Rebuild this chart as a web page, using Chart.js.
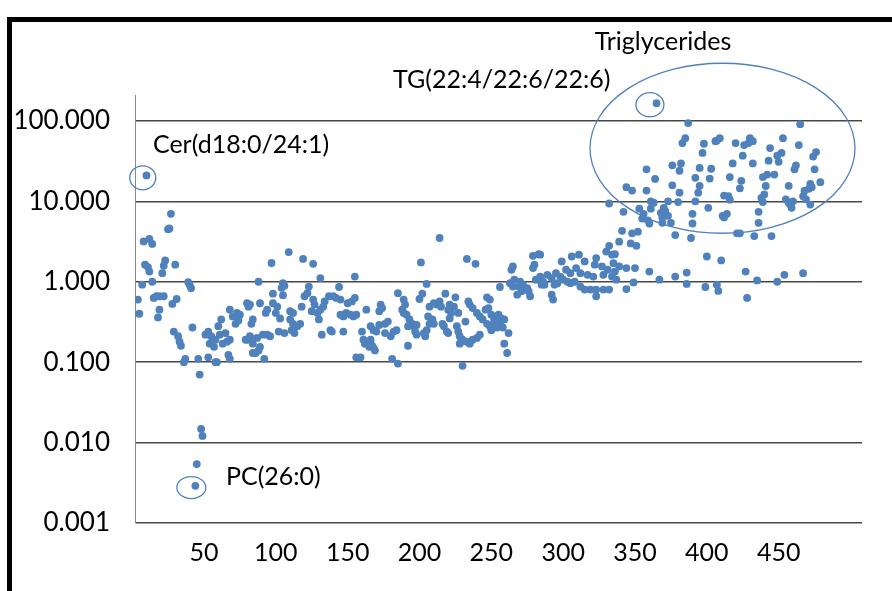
<!DOCTYPE html>
<html>
<head>
<meta charset="utf-8">
<script src="https://cdn.jsdelivr.net/npm/chart.js@4.4.0/dist/chart.umd.min.js"></script>
<style>
  html, body { margin: 0; padding: 0; background: #fff; }
  canvas { display: block; }
</style>
</head>
<body>
<canvas id="myChart" width="892" height="591"></canvas>
<script>
// values: [lipid index, ratio]
const band1 = [
  [4,0.6],[5,0.40],[7,0.92],[8,3.17],[9,1.63],[10,21],[11,1.52],[12,3.4],[12,1.34],[14,2.95],
  [14,1.0],[15,0.63],[17,0.66],[18,0.36],[19,0.66],[19,0.45],[21,1.28],[22,1.58],[22,0.66],[23,1.84],
  [25,4.5],[26,4.6],[27,7.0],[28,0.53],[29,0.24],[30,1.63],[31,0.61],[32,0.21],[33,0.18],[34,0.16],
  [36,0.10],[37,0.11],[39,0.99],[40,0.92],[41,0.83],[42,0.27],[44,0.0029],[45,0.0054],[46,0.11],[47,0.07],
  [48,0.0148],[49,0.0121],[51,0.22],[53,0.24],[53,0.115],[54,0.17],[55,0.21],[57,0.155],[58,0.19],[58,0.10],
  [59,0.10],[60,0.28],[61,0.22],[62,0.34],[63,0.17],[65,0.23],[66,0.18],[67,0.123],[68,0.19],[68,0.11],
  [68,0.45],[70,0.37],[72,0.30],[73,0.41],[74,0.33],[75,0.39],[79,0.19],[80,0.54],[81,0.49],[81,0.19],
  [82,0.2],[83,0.30],[84,0.13]
];
const band2 = [
  [82,0.52],[82,0.21],[84,0.34],[84,0.17],[86,0.13],[87,0.2],[88,1.0],[88,0.14],[89,0.54],[89,0.155],
  [91,0.22],[92,0.11],[93,0.41],[94,0.45],[94,0.22],[96,0.21],[97,1.71],[98,0.71],[98,0.54],[100,0.41],
  [101,0.49],[102,0.24],[103,0.35],[104,0.84],[105,0.96],[105,0.68],[106,0.89],[106,0.23],[109,2.34],[110,0.43],
  [110,0.34],[111,0.25],[112,0.41],[112,0.30],[113,0.23],[115,0.28],[117,0.30],[118,0.49],[119,1.92],[120,0.66],
  [122,0.72],[123,0.87],[125,0.43],[126,1.67],[126,0.6],[127,0.52],[129,0.41],[130,0.34],[131,1.11],[131,0.45],
  [132,0.22],[133,0.49],[134,0.57],[137,0.66],[138,0.25],[139,0.24],[140,0.66],[142,0.63],[144,0.86],[145,0.6],
  [145,0.39],[147,0.37],[147,0.24],[149,0.41],[150,0.54],[152,0.39],[153,0.57],[154,0.37],[155,1.16],[155,0.63],
  [156,0.39],[156,0.115],[159,0.115],[160,0.24],[161,0.19],[162,0.17],[163,0.45],[163,0.18],[165,0.155],[166,0.19],
  [166,0.28]
];
const band3 = [
  [167,0.16],[168,0.25],[168,0.15],[169,0.14],[170,0.24],[172,0.43],[172,0.29],[173,0.52],[174,0.47],[176,0.30],
  [176,0.23],[178,0.32],[180,0.21],[181,0.11],[182,0.24],[184,0.25],[185,0.72],[185,0.096],[188,0.45],[189,0.6],
  [189,0.41],[190,0.52],[191,0.39],[192,0.28],[192,0.16],[193,0.34],[195,0.3],[196,0.28],[197,0.24],[198,0.29],
  [198,0.22],[200,0.61],[201,1.74],[202,0.71],[203,0.23],[204,0.21],[205,0.94],[205,0.25],[206,0.37],[207,0.49],
  [207,0.30],[209,0.34],[210,0.54],[210,0.30],[212,0.52],[214,3.5],[214,0.57],[215,0.49],[216,0.3],[217,0.28],
  [218,0.71],[219,0.24],[220,0.45],[220,0.23],[221,0.52],[221,0.35],[222,0.41],[224,0.49],[225,0.64],[226,0.28],
  [227,0.41],[227,0.24],[228,0.21],[228,0.17],[229,0.18],[230,0.19],[230,0.09],[232,0.32],[233,1.92],[233,0.18],
  [234,0.57],[235,0.52],[235,0.17],[237,0.47],[237,0.19],[239,1.67],[240,0.41],[240,0.2],[242,0.37],[242,0.22],
  [244,0.34],[246,0.45],[247,0.64],[247,0.3],[248,0.47],[249,0.28],[250,0.25]
];
const band4 = [
  [249,0.6],[250,0.39],[251,0.29],[252,0.34],[254,0.27],[255,0.39],[256,0.86],[256,0.3],[257,0.35],[258,0.27],
  [259,0.34],[259,0.17],[261,0.13],[262,0.23],[263,0.96],[264,1.41],[265,1.55],[265,0.87],[266,1.06],[268,0.69],
  [269,0.87],[270,1.0],[271,0.76],[272,0.92],[275,0.83],[276,0.76],[277,0.66],[279,2.1],[279,1.48],[280,1.63],
  [281,1.06],[283,2.2],[284,2.17],[284,1.16],[285,0.92],[286,1.0],[287,0.92],[289,1.22],[292,1.11],[292,0.69],
  [293,0.6],[294,0.92],[295,1.28],[296,0.96],[298,1.16],[299,1.79],[300,1.06],[302,1.41],[303,1.0],[305,1.28],
  [305,0.96],[306,2.06],[308,1.0],[309,1.48],[311,2.17],[312,1.28],[312,0.87],[315,1.79],[315,0.8],[317,1.22],
  [319,0.8],[321,1.16],[322,1.63],[323,1.97],[323,0.8],[323,0.66],[327,1.55],[328,1.22],[328,0.8],[330,2.37],
  [331,1.41],[332,9.4],[332,2.8],[332,0.8],[334,2.17],[334,1.16]
];
const band5 = [
  [335,1.7],[336,2.2],[336,1.34],[337,1.06],[339,3.15],[339,1.55],[341,4.3],[342,7.4],[344,15],[344,1.48],
  [344,0.81],[347,3.0],[348,13.6],[348,4.0],[349,0.98],[350,1.48],[351,2.8],[352,4.2],[353,8.1],[355,6.1],
  [356,7.0],[358,25],[358,13.6],[359,5.8],[360,5.3],[360,1.34],[361,10],[361,8.1],[363,9.6],[364,19],
  [365,166],[367,1.06],[368,7.2],[369,6.3],[369,5.4],[370,8.3],[371,7.6],[373,10],[373,6.6],[375,5.4],
  [376,28],[376,15.8],[378,3.8],[378,1.16],[380,9.8],[381,24],[381,12.8],[382,29.6],[383,53],[385,61],
  [386,1.3],[386,0.94],[387,94],[389,3.5],[390,7.0],[390,5.3],[392,19.6],[392,10],[394,12.8],[395,26],
  [395,15.6],[397,40],[398,52],[399,0.86],[400,2.06],[401,8.3],[402,19.2],[403,25.4],[406,56],[407,57],
  [407,0.92],[408,0.77],[409,61],[410,1.84],[411,6.6],[412,11.8],[412,6.3],[414,7.0],[415,11.6],[416,20],
  [416,10.5],[418,29.6]
];
const band6 = [
  [420,53],[421,4.0],[423,14.5],[423,4.0],[424,18],[425,37],[426,50],[427,1.34],[428,0.63],[429,53],
  [430,61],[432,56],[432,29.6],[433,3.7],[435,1.04],[436,7.4],[436,5.4],[438,11],[439,20],[439,9.8],
  [440,12.2],[441,15.5],[442,21.5],[443,32],[444,46],[445,3.7],[447,21.5],[449,37],[449,1.0],[450,31],
  [452,40],[453,61],[454,1.22],[455,10.6],[457,15.6],[457,9.6],[458,9.1],[459,8.3],[460,10],[461,25],
  [462,28],[464,50],[465,91],[467,11.6],[467,1.28],[468,13.6],[469,10.6],[471,14.3],[472,16.5],[472,9.1],
  [473,15],[474,36],[475,25],[476,41],[479,17.3]
];

const xTickValues = [50, 100, 150, 200, 250, 300, 350, 400, 450];
const yTickValues = [0.001, 0.01, 0.1, 1, 10, 100];

// callouts, anchored in data units
const notes = [
  { text: 'Triglycerides', x: 369.5, y: 960, align: 'center' },
  { text: 'TG(22:4/22:6/22:6)', x: 181.6, y: 324, align: 'left' },
  { text: 'Cer(d18:0/24:1)', x: 14.5, y: 50, align: 'left' },
  { text: 'PC(26:0)', x: 65.3, y: 0.00374, align: 'left' }
];
const rings = [
  { x: 7.4, y: 19.6, rx: 13, ry: 12 },
  { x: 41.2, y: 0.00276, rx: 14.5, ry: 11 },
  { x: 360.4, y: 159, rx: 14, ry: 12 },
  { x: 410.9, y: 45.7, rx: 132.5, ry: 85 }
];

const allPoints = [].concat(band1, band2, band3, band4, band5, band6)
  .map(([x, y]) => ({ x: x, y: y }));

const fontFamily = 'Lato, "Liberation Sans", sans-serif';

const frameAndNotes = {
  id: 'frameAndNotes',
  beforeDraw(chart) {
    const c = chart.ctx;
    c.save();
    c.fillStyle = '#fff';
    c.fillRect(0, 0, chart.width, chart.height);
    c.fillStyle = '#000';
    c.fillRect(7, 17, chart.width - 7, 5);
    c.fillRect(7, 17, 5, chart.height - 17);
    c.restore();
  },
  afterDatasetsDraw(chart) {
    const c = chart.ctx;
    const xs = chart.scales.x, ys = chart.scales.y;
    c.save();
    c.strokeStyle = '#4F81BD';
    c.lineWidth = 1.3;
    rings.forEach(r => {
      c.beginPath();
      c.ellipse(xs.getPixelForValue(r.x), ys.getPixelForValue(r.y), r.rx, r.ry, 0, 0, Math.PI * 2);
      c.stroke();
    });
    c.fillStyle = '#000';
    c.font = '25px ' + fontFamily;
    c.textBaseline = 'middle';
    notes.forEach(n => {
      c.textAlign = n.align;
      c.fillText(n.text, xs.getPixelForValue(n.x), ys.getPixelForValue(n.y));
    });
    c.restore();
  }
};

const ctx = document.getElementById('myChart').getContext('2d');

new Chart(ctx, {
  type: 'scatter',
  data: {
    datasets: [{
      data: allPoints,
      backgroundColor: '#4F81BD',
      borderColor: '#4F81BD',
      pointRadius: 3.9,
      pointBorderWidth: 0,
      pointHoverRadius: 3.9
    }]
  },
  options: {
    responsive: false,
    animation: false,
    devicePixelRatio: 1,
    layout: { padding: { top: 95, right: 30, left: 0, bottom: 0 } },
    plugins: {
      legend: { display: false },
      tooltip: { enabled: false }
    },
    scales: {
      x: {
        type: 'linear',
        min: 2,
        max: 508,
        afterBuildTicks: s => { s.ticks = xTickValues.map(v => ({ value: v })); },
        afterFit: s => { s.height = 68; },
        grid: { display: false, drawTicks: false },
        border: { display: false },
        ticks: {
          padding: 15,
          color: '#000',
          autoSkip: false,
          maxRotation: 0,
          font: { family: fontFamily, size: 25 }
        }
      },
      y: {
        type: 'logarithmic',
        min: 0.001,
        max: 210,
        afterBuildTicks: s => { s.ticks = yTickValues.map(v => ({ value: v })); },
        afterFit: s => { s.width = 135; },
        grid: { color: '#474747', lineWidth: 1.5, drawTicks: false },
        border: { display: true, color: '#8a8a8a', width: 1 },
        ticks: {
          padding: 25,
          color: '#000',
          font: { family: fontFamily, size: 26 },
          callback: v => Number(v).toFixed(3)
        }
      }
    }
  },
  plugins: [frameAndNotes]
});
</script>
</body>
</html>
